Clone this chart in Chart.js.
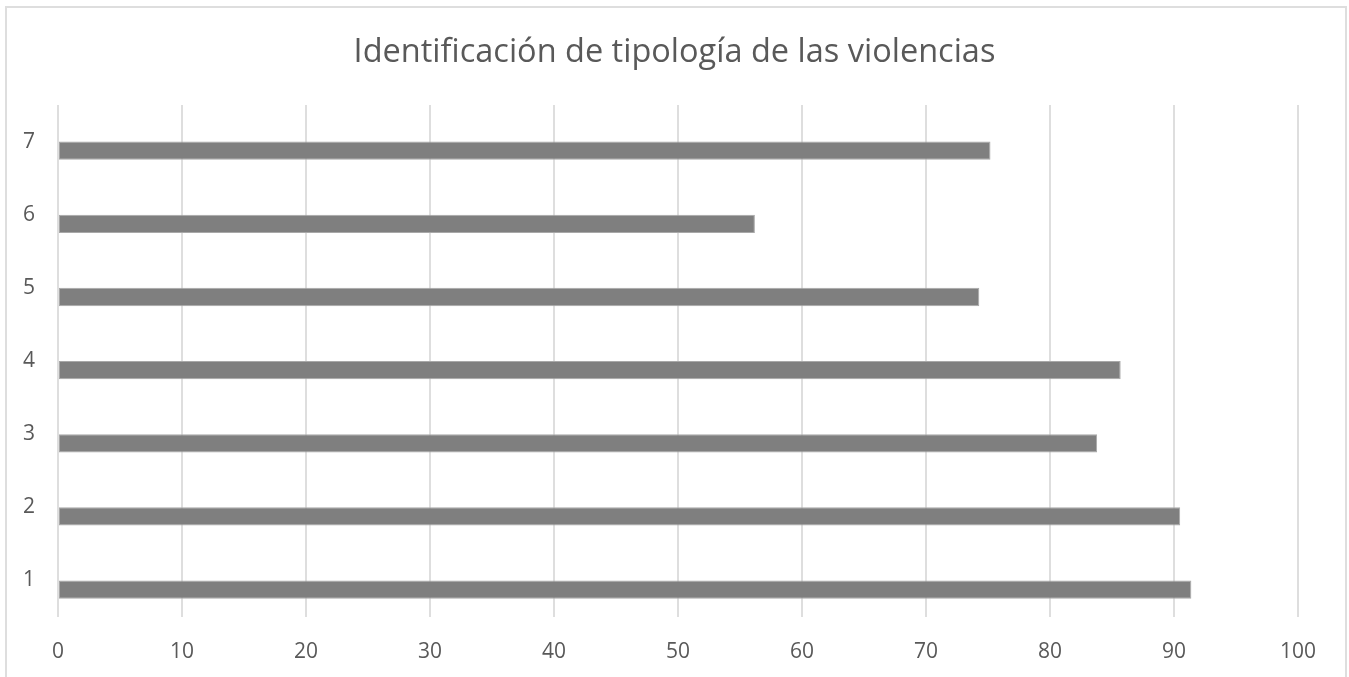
<!DOCTYPE html>
<html>
<head>
<meta charset="utf-8">
<script src="https://cdn.jsdelivr.net/npm/chart.js@4.4.1/dist/chart.umd.min.js"></script>
<style>
    body { margin: 0; background: #fff; overflow: hidden; }
    #frame {
        position: absolute;
        left: 5px;
        top: 6px;
        width: 1338px;
        height: 700px;
        border: 2px solid #dedede;
    }
    #wrap { position: absolute; left: 0; top: 0; width: 1349px; height: 677px; }
</style>
</head>
<body>
<div id="frame"></div>
<div id="wrap"><canvas id="myChart" width="1349" height="677"></canvas></div>
<script>
const categories = ['1', '2', '3', '4', '5', '6', '7'];
const values = [91.4, 90.5, 83.8, 85.7, 74.3, 56.2, 75.2];
const xTicks = [0, 10, 20, 30, 40, 50, 60, 70, 80, 90, 100];
const chartTitle = 'Identificación de tipología de las violencias';

// Excel draws category 1 at the bottom, so feed them top-down
const labelsTopDown = categories.slice().reverse();
const valuesTopDown = values.slice().reverse();
const emptySeries = categories.map(() => null);

const ctx = document.getElementById('myChart');

new Chart(ctx, {
    type: 'bar',
    data: {
        labels: labelsTopDown,
        datasets: [{
            label: 'Serie 2',
            data: emptySeries,
            backgroundColor: '#7f7f7f'
        }, {
            label: 'Serie 1',
            data: valuesTopDown,
            backgroundColor: '#7f7f7f',
            borderColor: '#a8a8a8',
            borderWidth: 1,
            borderSkipped: false
        }]
    },
    options: {
        indexAxis: 'y',
        responsive: false,
        maintainAspectRatio: false,
        animation: false,
        categoryPercentage: 0.5,
        barPercentage: 1,
        layout: {
            padding: 0
        },
        plugins: {
            legend: { display: false },
            tooltip: { enabled: false },
            title: {
                display: true,
                text: chartTitle,
                color: '#595959',
                font: { family: 'Open Sans', size: 32.5, weight: 'normal' },
                padding: { top: 33.5, bottom: 32.5 }
            }
        },
        scales: {
            x: {
                min: 0,
                max: 100,
                afterBuildTicks: (scale) => {
                    scale.ticks = xTicks.map(v => ({ value: v }));
                },
                afterFit: (scale) => { scale.height = 60; },
                grid: {
                    color: '#dedede',
                    lineWidth: 2,
                    drawTicks: false
                },
                border: { display: false },
                ticks: {
                    color: '#595959',
                    padding: 22,
                    font: { family: 'Open Sans', size: 21 }
                }
            },
            y: {
                afterFit: (scale) => { scale.width = 58; },
                grid: { display: false, drawTicks: false },
                border: { display: false },
                ticks: {
                    color: '#595959',
                    padding: 23,
                    font: { family: 'Open Sans', size: 21 }
                }
            },
            yRight: {
                type: 'linear',
                position: 'right',
                afterFit: (scale) => { scale.width = 51; },
                grid: { display: false, drawTicks: false },
                border: { display: false },
                ticks: { display: false }
            }
        }
    }
});
</script>
</body>
</html>
